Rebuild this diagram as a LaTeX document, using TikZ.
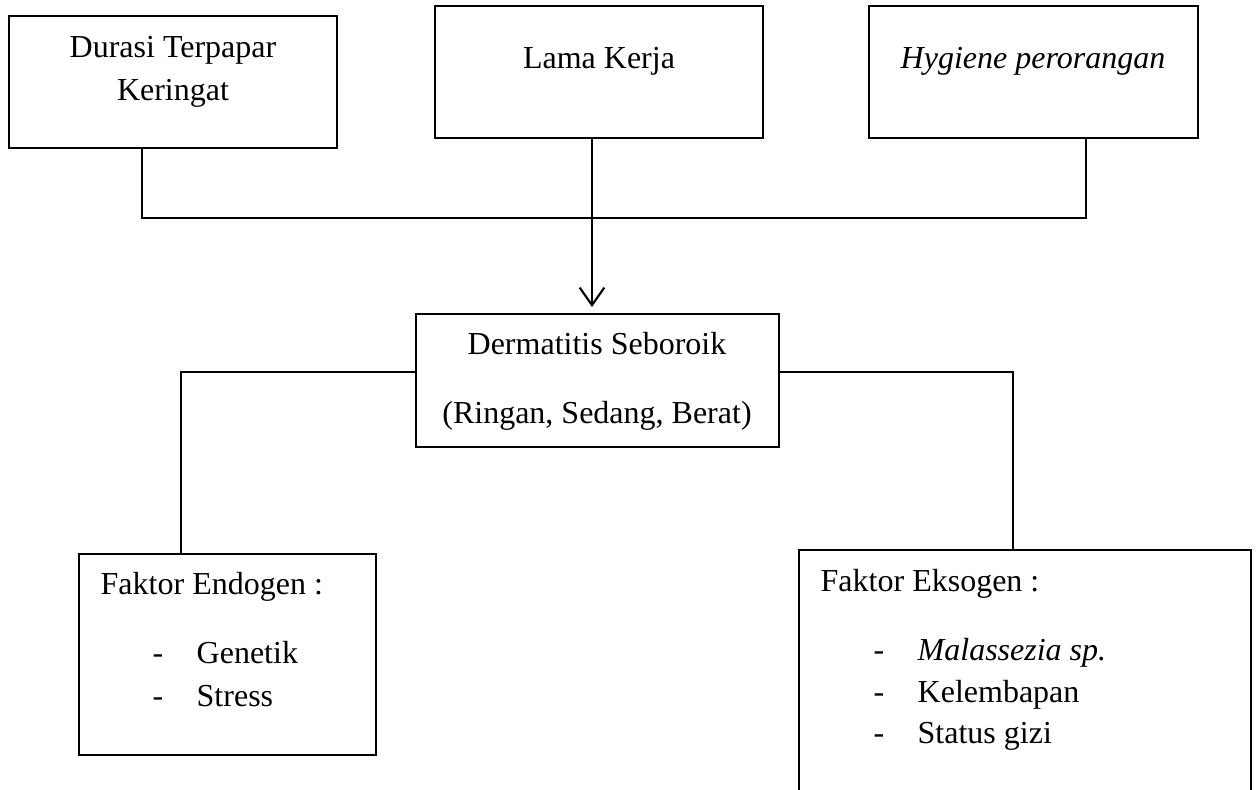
\documentclass[tikz,border=0pt]{standalone}
\usepackage{fontspec}
\setmainfont{Liberation Serif}
\usepackage{tikz}
\usetikzlibrary{arrows.meta}

\begin{document}
\begin{tikzpicture}[x=0.01cm, y=-0.01cm,
        % Define a style for the boxes and the texts
        box/.style={draw, line width=0.55pt, rectangle, inner sep=0pt},
        txt/.style={inner sep=0pt, font=\fontsize{9.1}{11}\selectfont},
        line/.style={line width=0.6pt}]

        % 0. Frame of the picture
        \useasboundingbox (0,0) rectangle (1256,790);
        \clip (0,0) rectangle (1256,790);

        % 1. Define the coordinates for the joints
        \coordinate (jL) at (142, 218);
        \coordinate (jM) at (592, 218);
        \coordinate (jR) at (1086, 218);
        \coordinate (kL) at (181, 372);
        \coordinate (kR) at (1013, 372);

        % 2. The three upper boxes
        \node[box, minimum width=3.28cm, minimum height=1.32cm] (durasi) at (173, 82) {};
        \node[box, minimum width=3.28cm, minimum height=1.32cm] (lama) at (599, 72) {};
        \node[box, minimum width=3.29cm, minimum height=1.32cm] (hygiene) at (1033.5, 72) {};

        \node[txt, anchor=base] (durasiA) at (173, 57) {Durasi Terpapar};
        \node[txt, anchor=base] (durasiB) at (173, 100) {Keringat};
        \node[txt, anchor=base] (lamaA) at (599, 68) {Lama Kerja};
        \node[txt, anchor=base] (hygieneA) at (1033, 68) {\itshape Hygiene perorangan};

        % 3. The middle box
        \node[box, minimum width=3.63cm, minimum height=1.33cm] (derm) at (597.5, 380.5) {};
        \node[txt, anchor=base] (dermA) at (597, 354) {Dermatitis Seboroik};
        \node[txt, anchor=base] (dermB) at (597, 423) {(Ringan, Sedang, Berat)};

        % 4. The two lower boxes
        \node[box, minimum width=2.97cm, minimum height=2.01cm] (endogen) at (227.5, 654.5) {};
        \node[txt, anchor=base west] (endoT) at (100, 594) {Faktor Endogen :};
        \node[txt, anchor=base west] (endoD1) at (152, 663) {-};
        \node[txt, anchor=base west] (endo1) at (196, 663) {Genetik};
        \node[txt, anchor=base west] (endoD2) at (152, 706) {-};
        \node[txt, anchor=base west] (endo2) at (196, 706) {Stress};

        \node[box, minimum width=4.52cm, minimum height=2.6cm] (eksogen) at (1025, 680) {};
        \node[txt, anchor=base west] (eksoT) at (820, 591) {Faktor Eksogen :};
        \node[txt, anchor=base west] (eksoD1) at (873, 660) {-};
        \node[txt, anchor=base west] (ekso1) at (917, 660) {\itshape Malassezia sp.};
        \node[txt, anchor=base west] (eksoD2) at (873, 702) {-};
        \node[txt, anchor=base west] (ekso2) at (917, 702) {Kelembapan};
        \node[txt, anchor=base west] (eksoD3) at (873, 743) {-};
        \node[txt, anchor=base west] (ekso3) at (917, 743) {Status gizi};

        % 5. Connectors from the upper boxes
        \draw[line] (durasi.south -| jL) -- (jL) -- (jR) -- (hygiene.south -| jR);
        \draw[line, -{Straight Barb[length=5pt, width=7pt]}, shorten >=0.06cm]
            (lama.south -| jM) -- (derm.north -| jM);

        % 6. Connectors to the lower boxes
        \draw[line] (derm.west |- kL) -- (kL) -- (endogen.north -| kL);
        \draw[line] (derm.east |- kR) -- (kR) -- (eksogen.north -| kR);

    \end{tikzpicture}
\end{document}
